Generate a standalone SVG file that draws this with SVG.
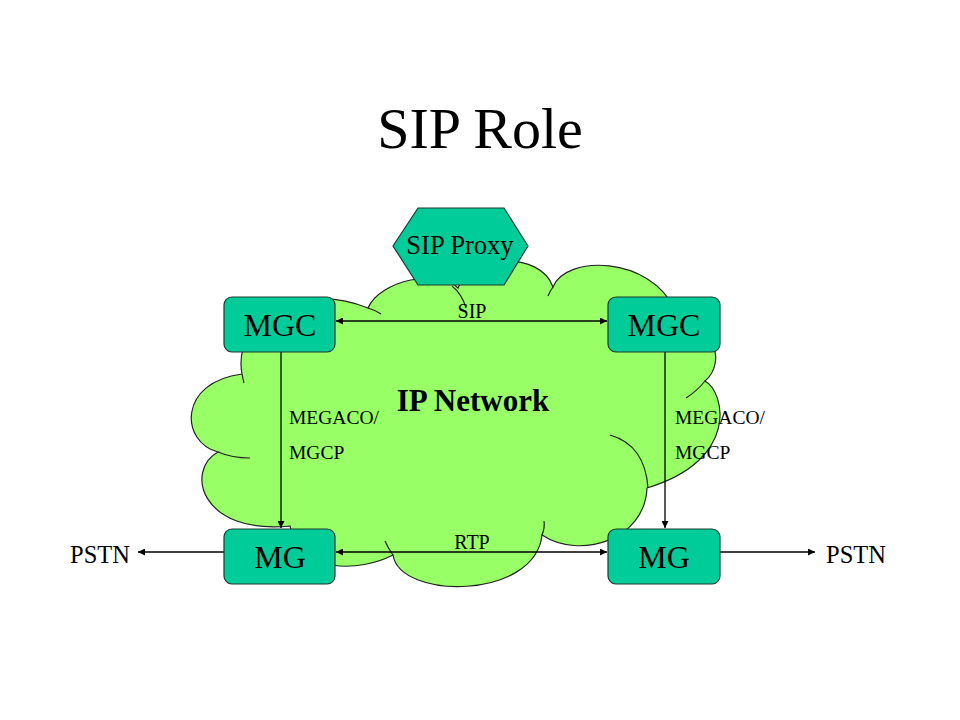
<svg xmlns="http://www.w3.org/2000/svg" width="960" height="720" viewBox="0 0 960 720">
<defs>
<marker id="ah" viewBox="0 0 10 10" refX="10" refY="5" markerWidth="9" markerHeight="7" markerUnits="userSpaceOnUse" orient="auto-start-reverse">
<path d="M0,0 L10,5 L0,10 z" fill="#000"/>
</marker>
<style>
.node{fill:#00cc99;stroke:#1a3a30;stroke-width:1.2}
.cloud{fill:#99ff66;stroke:#222;stroke-width:1.2}
.inner{fill:none;stroke:#222;stroke-width:1.2}
.conn{stroke:#000;stroke-width:1.3;fill:none}
.t{font-family:"Liberation Serif","Times New Roman",serif;fill:#000}
</style>
</defs>
<rect width="960" height="720" fill="#fff"/>
<text class="t" x="480" y="148" font-size="58" text-anchor="middle">SIP Role</text>

<g id="cloud">
<path class="cloud" d="M242,374 C232,320 300,280 368,308 C380,280 440,268 458,288 C470,255 540,250 553,287 C565,255 650,255 675,310 C712,318 728,362 705,381 C725,392 740,460 647,488 C645,540 580,560 542,535 C535,600 400,600 393,555 C360,572 300,575 290,526 C200,535 185,470 218,452 C180,442 178,382 242,374 Z"/>
<path class="inner" d="M368,308 Q375,310 381,314"/>
<path class="inner" d="M452,286 Q462,294 466,308"/>
<path class="inner" d="M548,296 Q550,291 553,287"/>
<path class="inner" d="M705,381 Q697,391 686,398"/>
<path class="inner" d="M610,435 Q645,445 648,488"/>
<path class="inner" d="M542,535 Q545,528 544,521"/>
<path class="inner" d="M393,555 Q388,548 385,541"/>
<path class="inner" d="M218,452 Q232,458 250,458"/>
<path class="inner" d="M242,374 Q243,379 244,383"/>
<text class="t" x="473" y="411" font-size="31" font-weight="bold" text-anchor="middle">IP Network</text>
</g>

<g id="connectors">
<line class="conn" x1="336" y1="321" x2="607" y2="321" marker-start="url(#ah)" marker-end="url(#ah)"/>
<line class="conn" x1="336" y1="552" x2="607" y2="552" marker-start="url(#ah)" marker-end="url(#ah)"/>
<line class="conn" x1="281" y1="352" x2="281" y2="528" marker-end="url(#ah)"/>
<line class="conn" x1="665" y1="352" x2="665" y2="528" marker-end="url(#ah)"/>
<line class="conn" x1="224" y1="552" x2="138" y2="552" marker-end="url(#ah)"/>
<line class="conn" x1="720" y1="552" x2="815" y2="552" marker-end="url(#ah)"/>
<text class="t" x="472" y="318" font-size="20" text-anchor="middle">SIP</text>
<text class="t" x="472" y="549" font-size="20" text-anchor="middle">RTP</text>
<text class="t" x="289" y="424" font-size="19.5">MEGACO/</text>
<text class="t" x="289" y="459" font-size="19.5">MGCP</text>
<text class="t" x="675" y="424" font-size="19.5">MEGACO/</text>
<text class="t" x="675" y="459" font-size="19.5">MGCP</text>
<text class="t" x="70" y="563" font-size="24.5">PSTN</text>
<text class="t" x="826" y="563" font-size="24.5">PSTN</text>
</g>

<g id="sip-proxy">
<polygon class="node" points="393,246 418,208 504,208 528,246 504,285 418,285"/>
<text class="t" x="460" y="254" font-size="26.5" text-anchor="middle">SIP Proxy</text>
</g>
<g id="mgc-left">
<rect class="node" x="224" y="297" width="111" height="55" rx="8"/>
<text class="t" x="280" y="336" font-size="32" text-anchor="middle">MGC</text>
</g>
<g id="mgc-right">
<rect class="node" x="608" y="297" width="112" height="55" rx="8"/>
<text class="t" x="664" y="336" font-size="32" text-anchor="middle">MGC</text>
</g>
<g id="mg-left">
<rect class="node" x="224" y="529" width="111" height="55" rx="8"/>
<text class="t" x="280" y="568" font-size="32" text-anchor="middle">MG</text>
</g>
<g id="mg-right">
<rect class="node" x="608" y="529" width="112" height="55" rx="8"/>
<text class="t" x="664" y="568" font-size="32" text-anchor="middle">MG</text>
</g>
</svg>
